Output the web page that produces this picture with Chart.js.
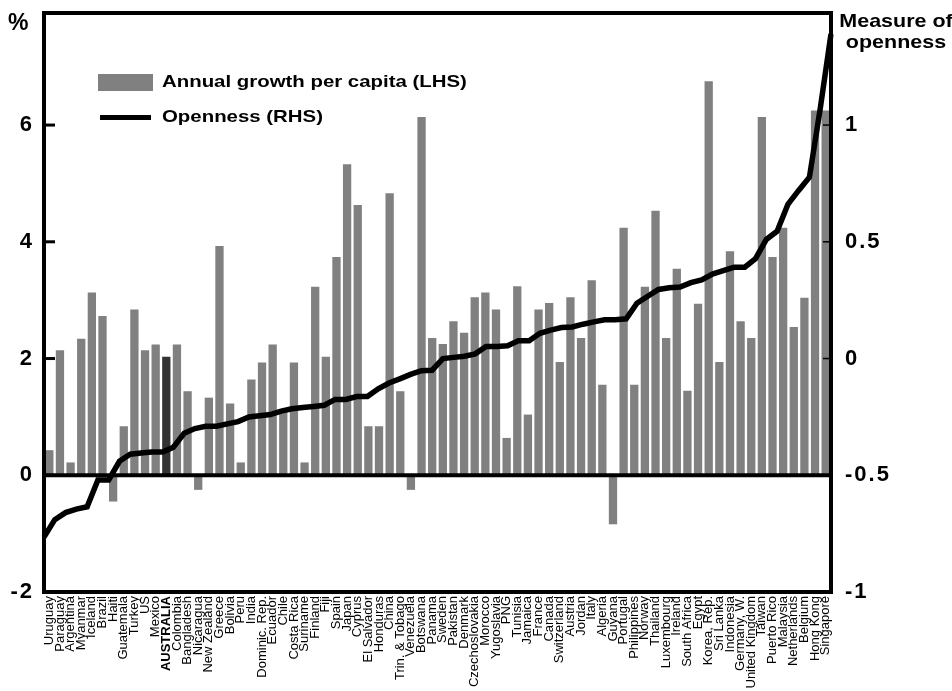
<!DOCTYPE html>
<html>
<head>
<meta charset="utf-8">
<script src="https://cdn.jsdelivr.net/npm/chart.js@4/dist/chart.umd.min.js"></script>
<style>
  body { margin: 0; background: #fff; }
  #wrap { position: relative; width: 952px; height: 691px; font-family: "Liberation Sans", Arial, sans-serif; }
  .lbl { position: absolute; font-weight: bold; color: #000; white-space: nowrap; }
  .wide { transform: scaleX(1.2); transform-origin: left center; }
</style>
</head>
<body>
<div id="wrap">
  <canvas id="chart"></canvas>
  <div class="lbl" style="left:8px; top:9px; font-size:23px;">%</div>
  <div class="lbl" style="left:836px; top:10px; width:120px; text-align:center; font-size:19px; line-height:21px; transform:scaleX(1.13); transform-origin:center;">Measure of<br>openness</div>
  <div style="position:absolute; left:98px; top:74px; width:55px; height:17px; background:#808080;"></div>
  <div class="lbl wide" style="left:162px; top:72px; font-size:17px; line-height:20px;">Annual growth per capita (LHS)</div>
  <div style="position:absolute; left:100px; top:115px; width:51px; height:5px; background:#000;"></div>
  <div class="lbl wide" style="left:162px; top:107px; font-size:17px; line-height:20px;">Openness (RHS)</div>
</div>
<script>
// Countries, sorted by openness
const countries = ['Uruguay', 'Paraguay', 'Argentina', 'Myanmar', 'Iceland', 'Brazil', 'Haiti', 'Guatemala',
    'Turkey', 'US', 'Mexico', 'AUSTRALIA', 'Colombia', 'Bangladesh', 'Nicaragua', 'New Zealand', 'Greece',
    'Bolivia', 'Peru', 'India', 'Dominic. Rep.', 'Ecuador', 'Chile', 'Costa Rica', 'Suriname', 'Finland',
    'Fiji', 'Spain', 'Japan', 'Cyprus', 'El Salvador', 'Honduras', 'China', 'Trin. & Tobago', 'Venezuela',
    'Botswana', 'Panama', 'Sweden', 'Pakistan', 'Denmark', 'Czechoslovakia', 'Morocco', 'Yugoslavia', 'PNG',
    'Tunisia', 'Jamaica', 'France', 'Canada', 'Switzerland', 'Austria', 'Jordan', 'Italy', 'Algeria', 'Guyana',
    'Portugal', 'Philippines', 'Norway', 'Thailand', 'Luxembourg', 'Ireland', 'South Africa', 'Egypt',
    'Korea, Rep.', 'Sri Lanka', 'Indonesia', 'Germany, W.', 'United Kingdom', 'Taiwan', 'Puerto Rico',
    'Malaysia', 'Netherlands', 'Belgium', 'Hong Kong', 'Singapore'];

// Annual growth per capita, % (LHS)
const growth = [0.43, 2.14, 0.22, 2.34, 3.13, 2.73, -0.45, 0.84, 2.84, 2.14, 2.24, 2.03, 2.24, 1.44, -0.25,
    1.33, 3.93, 1.23, 0.22, 1.64, 1.93, 2.24, 1.1, 1.93, 0.22, 3.23, 2.03, 3.74, 5.33, 4.63, 0.84, 0.84, 4.83,
    1.44, -0.25, 6.14, 2.35, 2.25, 2.64, 2.44, 3.05, 3.13, 2.84, 0.64, 3.24, 1.04, 2.84, 2.95, 1.94, 3.05,
    2.35, 3.34, 1.55, -0.84, 4.24, 1.55, 3.23, 4.53, 2.35, 3.54, 1.45, 2.94, 6.75, 1.94, 3.84, 2.64, 2.35,
    6.14, 3.74, 4.24, 2.54, 3.04, 6.25, 6.25];

// Measure of openness (RHS)
const openness = [-0.765, -0.69, -0.66, -0.645, -0.635, -0.52, -0.52, -0.44, -0.41, -0.405, -0.4, -0.4,
    -0.38, -0.32, -0.3, -0.29, -0.29, -0.28, -0.27, -0.25, -0.245, -0.24, -0.225, -0.215, -0.21, -0.205,
    -0.2, -0.175, -0.175, -0.163, -0.163, -0.13, -0.105, -0.087, -0.068, -0.052, -0.05, 0.0, 0.005, 0.01,
    0.02, 0.052, 0.052, 0.055, 0.076, 0.076, 0.108, 0.122, 0.133, 0.135, 0.147, 0.157, 0.166, 0.166, 0.17,
    0.237, 0.267, 0.296, 0.303, 0.306, 0.325, 0.337, 0.362, 0.377, 0.391, 0.391, 0.428, 0.51, 0.545, 0.66,
    0.72, 0.777, 1.07, 1.39];

const leftTicks = [-2, 0, 2, 4, 6];
const rightTicks = [-1, -0.5, 0, 0.5, 1];
const highlight = 'AUSTRALIA';

const lhsMin = -2, lhsMax = 7.92;
// RHS = (LHS - 2) / 4
const rhsMin = (lhsMin - 2) / 4, rhsMax = (lhsMax - 2) / 4;

Chart.defaults.font.family = '"Liberation Sans", Arial, sans-serif';
Chart.defaults.color = '#000';

// the original axis numbers are set wide, so spread them a little
function spreadLabels(scale, spacing) {
    if (scale._spread) return;
    scale._spread = true;
    const orig = scale.drawLabels;
    scale.drawLabels = function (area) {
        const ctx = this.ctx;
        const prev = ctx.letterSpacing;
        ctx.letterSpacing = spacing;
        orig.call(this, area);
        ctx.letterSpacing = prev || '0px';
    };
}

// vertical axes: fixed width, no extra room above/below for label halves
function fitVertical(s, width, spacing) {
    s.width = width;
    s.paddingTop = 0;
    s.paddingBottom = 0;
    spreadLabels(s, spacing);
}

// thick frame, zero line and inward tick marks
const framePlugin = {
    id: 'frame',
    afterDraw(chart) {
        const { ctx, chartArea: a, scales } = chart;
        ctx.save();
        ctx.strokeStyle = '#000';
        ctx.lineWidth = 4;
        ctx.strokeRect(a.left, a.top, a.right - a.left, a.bottom - a.top);
        const y0 = scales.y.getPixelForValue(0);
        ctx.beginPath();
        ctx.moveTo(a.left, y0);
        ctx.lineTo(a.right, y0);
        ctx.stroke();
        ctx.lineWidth = 3;
        leftTicks.forEach(v => {
            const py = scales.y.getPixelForValue(v);
            ctx.beginPath();
            ctx.moveTo(a.left, py);
            ctx.lineTo(a.left + 11, py);
            ctx.stroke();
        });
        ctx.lineWidth = 1.5;
        rightTicks.forEach(v => {
            const py = scales.y2.getPixelForValue(v);
            ctx.beginPath();
            ctx.moveTo(a.right - 8, py);
            ctx.lineTo(a.right, py);
            ctx.stroke();
        });
        ctx.restore();
    }
};

new Chart(document.getElementById('chart'), {
    data: {
        labels: countries,
        datasets: [
            {
                type: 'line',
                label: 'Openness (RHS)',
                data: openness,
                xAxisID: 'x2',
                yAxisID: 'y2',
                borderColor: '#000',
                borderWidth: 5.5,
                pointRadius: 0,
                tension: 0,
                order: 0
            },
            {
                type: 'bar',
                label: 'Annual growth per capita (LHS)',
                data: growth,
                xAxisID: 'x',
                yAxisID: 'y',
                backgroundColor: countries.map(c => c === highlight ? '#333333' : '#808080'),
                grouped: false,
                barPercentage: 0.78,
                categoryPercentage: 1,
                order: 1
            }
        ]
    },
    options: {
        responsive: true,
        maintainAspectRatio: false,
        animation: false,
        layout: { padding: { top: 13, left: 0, right: 0, bottom: 0 } },
        plugins: {
            legend: { display: false },
            tooltip: { enabled: false }
        },
        scales: {
            x: {
                type: 'category',
                offset: true,
                grid: { display: false, drawTicks: false },
                border: { display: false },
                ticks: {
                    autoSkip: false,
                    maxRotation: 90,
                    minRotation: 90,
                    padding: 4,
                    font: c => ({ size: 13, weight: (c.tick && c.tick.label === highlight) ? 'bold' : 'normal' })
                },
                afterFit: s => { s.height = 99; s.paddingLeft = 0; s.paddingRight = 0; }
            },
            x2: {
                type: 'category',
                offset: false,
                display: false
            },
            y: {
                position: 'left',
                min: lhsMin,
                max: lhsMax,
                grid: { display: false, drawTicks: false },
                border: { display: false },
                ticks: {
                    stepSize: 2,
                    includeBounds: false,
                    padding: 10,
                    font: { size: 22, weight: 'bold' }
                },
                afterFit: s => fitVertical(s, 44, '2px')
            },
            y2: {
                position: 'right',
                min: rhsMin,
                max: rhsMax,
                grid: { display: false, drawTicks: false },
                border: { display: false },
                ticks: {
                    stepSize: 0.5,
                    includeBounds: false,
                    padding: 14,
                    font: { size: 22, weight: 'bold' },
                    callback: v => String(Math.round(v * 10) / 10)
                },
                afterFit: s => fitVertical(s, 121, '2px')
            }
        }
    },
    plugins: [framePlugin]
});
</script>
</body>
</html>
